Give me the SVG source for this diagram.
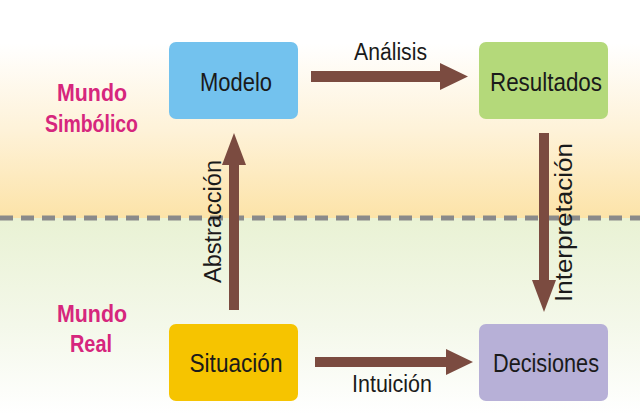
<svg xmlns="http://www.w3.org/2000/svg" width="640" height="414" viewBox="0 0 640 414">
  <defs>
    <linearGradient id="gTop" x1="0" y1="0" x2="0" y2="1">
      <stop offset="0" stop-color="#FFFFFF"/>
      <stop offset="0.2" stop-color="#FFFFFF"/>
      <stop offset="0.6" stop-color="#FEF2D8"/>
      <stop offset="1" stop-color="#FCE3A8"/>
    </linearGradient>
    <linearGradient id="gBot" x1="0" y1="0" x2="0" y2="1">
      <stop offset="0" stop-color="#E9F2D4"/>
      <stop offset="0.55" stop-color="#F4F8EA"/>
      <stop offset="1" stop-color="#FFFFFF"/>
    </linearGradient>
    <style>
      .box { stroke: none; }
      .lbl { font-family: "Liberation Sans", Arial, sans-serif; font-size: 26px; fill: #1A1A1A; text-anchor: middle; }
      .elbl { font-family: "Liberation Sans", Arial, sans-serif; font-size: 23px; fill: #1A1A1A; text-anchor: middle; }
      .world { font-family: "Liberation Sans", Arial, sans-serif; font-size: 23px; font-weight: bold; fill: #D6267D; text-anchor: middle; }
      .arrow { fill: #7B4B40; }
    </style>
  </defs>

  <g id="background">
    <rect x="0" y="0" width="640" height="218" fill="url(#gTop)"/>
    <rect x="0" y="218" width="640" height="196" fill="url(#gBot)"/>
    <line x1="0" y1="218" x2="640" y2="218" stroke="#8A8A8A" stroke-width="5" stroke-dasharray="13 8"/>
  </g>

  <g id="world-labels">
    <text class="world" x="92" y="101" textLength="70" lengthAdjust="spacingAndGlyphs">Mundo</text>
    <text class="world" x="91.5" y="132" textLength="93" lengthAdjust="spacingAndGlyphs">Simbólico</text>
    <text class="world" x="92" y="322" textLength="70" lengthAdjust="spacingAndGlyphs">Mundo</text>
    <text class="world" x="91" y="352" textLength="42" lengthAdjust="spacingAndGlyphs">Real</text>
  </g>

  <g id="connectors">
    <g id="edge-analisis">
      <polygon class="arrow" points="311,71 440,71 440,63 468,76.5 440,90 440,82 311,82"/>
      <text class="elbl" x="390.5" y="60" textLength="73" lengthAdjust="spacingAndGlyphs">Análisis</text>
    </g>
    <g id="edge-intuicion">
      <polygon class="arrow" points="315,357 446,357 446,349 473,362 446,375 446,367 315,367"/>
      <text class="elbl" x="392" y="392" textLength="80" lengthAdjust="spacingAndGlyphs">Intuición</text>
    </g>
    <g id="edge-abstraccion">
      <polygon class="arrow" points="229,310 229,165 222,165 234,133 246,165 239,165 239,310"/>
      <text class="elbl" transform="translate(221,221.5) rotate(-90)" x="0" y="0" textLength="123" lengthAdjust="spacingAndGlyphs">Abstracción</text>
    </g>
    <g id="edge-interpretacion">
      <polygon class="arrow" points="539,133 549,133 549,280 556,280 544,312 532,280 539,280"/>
      <text class="elbl" transform="translate(572,222.5) rotate(-90)" x="0" y="0" textLength="159" lengthAdjust="spacingAndGlyphs">Interpretación</text>
    </g>
  </g>

  <g id="node-modelo">
    <rect class="box" x="169" y="42" width="129" height="77" rx="7" fill="#73C2EE"/>
    <text class="lbl" x="236" y="91" textLength="72" lengthAdjust="spacingAndGlyphs">Modelo</text>
  </g>
  <g id="node-resultados">
    <rect class="box" x="479" y="42" width="129" height="77" rx="7" fill="#B4D97A"/>
    <text class="lbl" x="546" y="91" textLength="112" lengthAdjust="spacingAndGlyphs">Resultados</text>
  </g>
  <g id="node-situacion">
    <rect class="box" x="169" y="324" width="129" height="77" rx="7" fill="#F6C400"/>
    <text class="lbl" x="236" y="372" textLength="93" lengthAdjust="spacingAndGlyphs">Situación</text>
  </g>
  <g id="node-decisiones">
    <rect class="box" x="479" y="324" width="129" height="77" rx="7" fill="#B7B0D7"/>
    <text class="lbl" x="546" y="372" textLength="106" lengthAdjust="spacingAndGlyphs">Decisiones</text>
  </g>
</svg>
